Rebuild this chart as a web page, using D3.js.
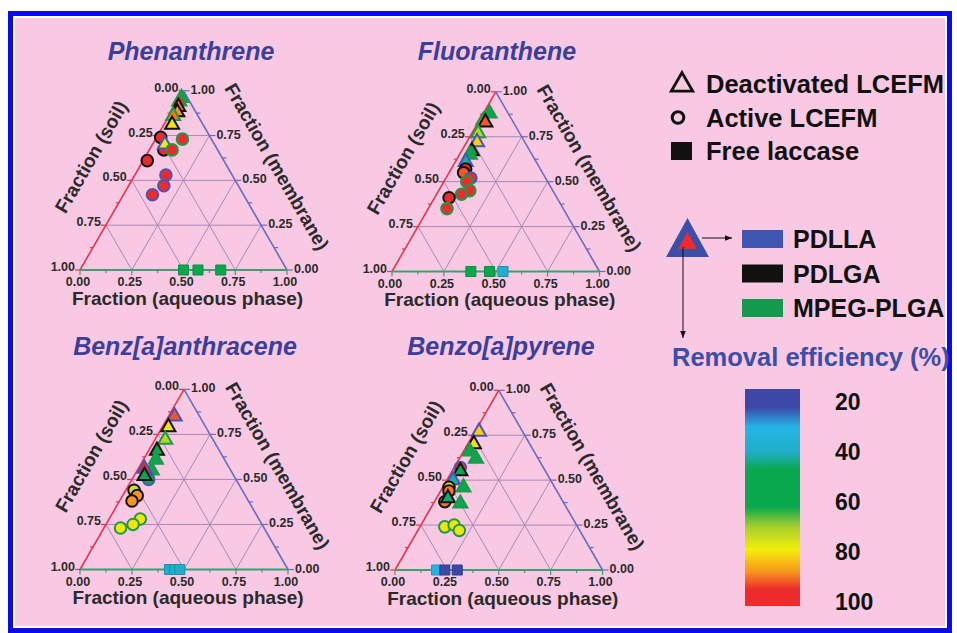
<!DOCTYPE html>
<html>
<head>
<meta charset="utf-8">
<script src="https://cdn.jsdelivr.net/npm/d3@7"></script>
<style>
  body { margin: 0; background: #fff; }
  svg text { font-family: "Liberation Sans", Arial, sans-serif; font-weight: bold; }
</style>
</head>
<body>
<script>
// rows: [marker, polymer, aqueous, soil, membrane, removal efficiency %]
const phenanthrene = [
  ["tri", "MPEG-PLGA", 0.01, 0.03, 0.96, 60],
  ["tri", "MPEG-PLGA", 0.01, 0.05, 0.94, 100],
  ["tri", "PDLGA", 0.02, 0.07, 0.91, 90],
  ["tri", "PDLGA", 0.03, 0.09, 0.88, 88],
  ["tri", "MPEG-PLGA", 0.02, 0.12, 0.86, 90],
  ["tri", "PDLGA", 0.04, 0.15, 0.81, 80],
  ["cir", "PDLGA", 0.02, 0.24, 0.74, 100],
  ["cir", "PDLGA", 0.07, 0.26, 0.67, 98],
  ["tri", "PDLLA", 0.06, 0.24, 0.70, 78],
  ["cir", "MPEG-PLGA", 0.11, 0.22, 0.67, 95],
  ["cir", "MPEG-PLGA", 0.13, 0.14, 0.73, 100],
  ["cir", "PDLGA", 0.02, 0.37, 0.61, 100],
  ["cir", "PDLLA", 0.15, 0.32, 0.53, 100],
  ["cir", "PDLLA", 0.17, 0.36, 0.47, 100],
  ["cir", "PDLLA", 0.14, 0.44, 0.42, 100],
  ["sq", null, 0.50, 0.50, 0, 58],
  ["sq", null, 0.57, 0.43, 0, 58],
  ["sq", null, 0.68, 0.32, 0, 54]
];

const fluoranthene = [
  ["tri", "MPEG-PLGA", 0.03, 0.09, 0.88, 62],
  ["tri", "MPEG-PLGA", 0.02, 0.14, 0.84, 90],
  ["tri", "PDLGA", 0.035, 0.135, 0.83, 92],
  ["tri", "MPEG-PLGA", 0.03, 0.20, 0.77, 72],
  ["tri", "PDLLA", 0.05, 0.23, 0.72, 82],
  ["tri", "PDLGA", 0.05, 0.28, 0.67, 58],
  ["tri", "MPEG-PLGA", 0.05, 0.30, 0.65, 60],
  ["tri", "PDLLA", 0.05, 0.34, 0.61, 42],
  ["cir", "PDLGA", 0.07, 0.36, 0.57, 100],
  ["cir", "PDLGA", 0.07, 0.38, 0.55, 92],
  ["cir", "PDLLA", 0.12, 0.36, 0.52, 100],
  ["cir", "MPEG-PLGA", 0.11, 0.39, 0.50, 100],
  ["cir", "MPEG-PLGA", 0.15, 0.40, 0.45, 100],
  ["cir", "MPEG-PLGA", 0.12, 0.45, 0.43, 100],
  ["cir", "PDLGA", 0.07, 0.52, 0.41, 100],
  ["cir", "MPEG-PLGA", 0.09, 0.56, 0.35, 100],
  ["sq", null, 0.38, 0.62, 0, 58],
  ["sq", null, 0.47, 0.53, 0, 50],
  ["sq", null, 0.535, 0.465, 0, 38]
];

const benzAnthracene = [
  ["tri", "PDLLA", 0.03, 0.12, 0.85, 92],
  ["tri", "PDLGA", 0.03, 0.18, 0.79, 80],
  ["tri", "MPEG-PLGA", 0.05, 0.23, 0.72, 72],
  ["tri", "PDLGA", 0.04, 0.30, 0.66, 58],
  ["tri", "MPEG-PLGA", 0.06, 0.33, 0.61, 56],
  ["tri", "MPEG-PLGA", 0.07, 0.38, 0.55, 58],
  ["tri", "PDLLA", 0.03, 0.41, 0.56, 100],
  ["cir", "PDLLA", 0.08, 0.42, 0.50, 55],
  ["tri", "PDLGA", 0.05, 0.43, 0.52, 58],
  ["cir", "PDLGA", 0.04, 0.52, 0.44, 75],
  ["cir", "PDLGA", 0.07, 0.52, 0.41, 88],
  ["cir", "PDLGA", 0.06, 0.56, 0.38, 88],
  ["cir", "MPEG-PLGA", 0.15, 0.57, 0.28, 80],
  ["cir", "MPEG-PLGA", 0.13, 0.62, 0.25, 80],
  ["cir", "MPEG-PLGA", 0.08, 0.69, 0.23, 78],
  ["sq", null, 0.43, 0.57, 0, 40],
  ["sq", null, 0.455, 0.545, 0, 40],
  ["sq", null, 0.48, 0.52, 0, 40]
];

const benzoPyrene = [
  ["tri", "PDLLA", 0.02, 0.21, 0.77, 82],
  ["tri", "PDLGA", 0.03, 0.27, 0.70, 80],
  ["tri", "MPEG-PLGA", 0.03, 0.31, 0.66, 62],
  ["tri", "MPEG-PLGA", 0.08, 0.30, 0.62, 58],
  ["cir", "PDLLA", 0.03, 0.40, 0.57, 100],
  ["tri", "PDLGA", 0.04, 0.41, 0.55, 60],
  ["tri", "PDLLA", 0.03, 0.47, 0.50, 42],
  ["tri", "MPEG-PLGA", 0.10, 0.44, 0.46, 58],
  ["cir", "PDLGA", 0.03, 0.51, 0.46, 80],
  ["cir", "PDLGA", 0.04, 0.52, 0.44, 90],
  ["cir", "PDLGA", 0.05, 0.57, 0.38, 90],
  ["tri", "PDLGA", 0.055, 0.545, 0.40, 45],
  ["tri", "MPEG-PLGA", 0.13, 0.50, 0.37, 58],
  ["cir", "MPEG-PLGA", 0.12, 0.64, 0.24, 80],
  ["cir", "MPEG-PLGA", 0.16, 0.59, 0.25, 80],
  ["cir", "MPEG-PLGA", 0.20, 0.58, 0.22, 80],
  ["sq", null, 0.20, 0.80, 0, 30],
  ["sq", null, 0.24, 0.76, 0, 22],
  ["sq", null, 0.30, 0.70, 0, 22]
];

const compounds = ["Phenanthrene", "Fluoranthene", "Benz[a]anthracene", "Benzo[a]pyrene"];
const fractionTicks = [0, 0.25, 0.5, 0.75, 1];
const minorTicks = d3.range(0, 1.0001, 0.125);
const markerNames = ["Deactivated LCEFM", "Active LCEFM", "Free laccase"];
const polymerNames = ["PDLLA", "PDLGA", "MPEG-PLGA"];
const effTicks = [20, 40, 60, 80, 100];

const width = 957, height = 633;
const svg = d3.select("body").append("svg")
  .attr("width", width).attr("height", height);

// frame
svg.append("rect").attr("x", 8).attr("y", 11).attr("width", 944).attr("height", 622).attr("fill", "#0b0bea");
svg.append("rect").attr("x", 13).attr("y", 16).attr("width", 934).attr("height", 612).attr("fill", "#fff");
svg.append("rect").attr("x", 15).attr("y", 18).attr("width", 930).attr("height", 608).attr("fill", "#f9c8e3");

const effColor = d3.scaleLinear()
  .domain([15, 22, 30, 40, 47, 62, 70, 79, 88, 95, 101])
  .range(["#3b48a5", "#3b48a5", "#26b4e6", "#1eaec8", "#0aa84e", "#0aa84e",
          "#a7cf2b", "#f4ee0a", "#f7941e", "#ee2a2b", "#ee2a2b"])
  .clamp(true);

const polyColor = d3.scaleOrdinal()
  .domain(polymerNames)
  .range(["#4a55b8", "#111111", "#1c9a4a"]);

const symbols = {
  tri: d3.symbol(d3.symbolTriangle, 85),
  cir: d3.symbol(d3.symbolCircle, 105),
  sq: d3.symbol(d3.symbolSquare, 100)
};

const panels = [
  {data: phenanthrene, x0: 80, yb: 270, w: 207, tx: 191, ty: 60},
  {data: fluoranthene, x0: 392, yb: 271.5, w: 207.5, tx: 497, ty: 60},
  {data: benzAnthracene, x0: 80, yb: 569.5, w: 208, tx: 185, ty: 355},
  {data: benzoPyrene, x0: 395, yb: 570, w: 207.5, tx: 501, ty: 355}
];

panels.forEach((p, i) => {
  const h = p.w * Math.sqrt(3) / 2;
  const xs = d3.scaleLinear().domain([0, 1]).range([p.x0, p.x0 + p.w]);
  const ys = d3.scaleLinear().domain([0, 1]).range([p.yb, p.yb - h]);
  // aqueous a, membrane m -> pixel
  const pos = (a, m) => [xs(a + m / 2), ys(m)];
  const g = svg.append("g");

  g.append("text")
    .attr("x", p.tx).attr("y", p.ty)
    .attr("text-anchor", "middle")
    .attr("font-size", 25).attr("font-style", "italic")
    .attr("fill", "#3a3f99")
    .text(compounds[i]);

  // grid
  const inner = [0.25, 0.5, 0.75];
  const gridLines = [];
  inner.forEach(t => {
    gridLines.push([pos(0, t), pos(1 - t, t)]);
    gridLines.push([pos(t, 0), pos(t, 1 - t)]);
    gridLines.push([pos(1 - t, 0), pos(0, 1 - t)]);
  });
  g.selectAll("line.grid").data(gridLines).join("line")
    .attr("class", "grid")
    .attr("x1", d => d[0][0]).attr("y1", d => d[0][1])
    .attr("x2", d => d[1][0]).attr("y2", d => d[1][1])
    .attr("stroke", "#a58bb6").attr("stroke-width", 1);

  // edges
  const pS = pos(0, 0), pA = pos(1, 0), pM = pos(0, 1);
  g.append("line").attr("x1", pS[0]).attr("y1", pS[1]).attr("x2", pM[0]).attr("y2", pM[1])
    .attr("stroke", "#e8344e").attr("stroke-width", 1.6);
  g.append("line").attr("x1", pM[0]).attr("y1", pM[1]).attr("x2", pA[0]).attr("y2", pA[1])
    .attr("stroke", "#6a6cc0").attr("stroke-width", 1.6);
  g.append("line").attr("x1", pS[0]).attr("y1", pS[1]).attr("x2", pA[0]).attr("y2", pA[1])
    .attr("stroke", "#3a9f72").attr("stroke-width", 2);

  // ticks
  minorTicks.forEach((t, k) => {
    const len = k % 2 === 0 ? 5 : 3;
    let q = pos(t, 0);
    g.append("line").attr("x1", q[0]).attr("y1", q[1]).attr("x2", q[0]).attr("y2", q[1] + len)
      .attr("stroke", "#3a9f72").attr("stroke-width", 1.2);
    q = pos(0, 1 - t);
    g.append("line").attr("x1", q[0]).attr("y1", q[1]).attr("x2", q[0] - len).attr("y2", q[1])
      .attr("stroke", "#e8344e").attr("stroke-width", 1.2);
    q = pos(1 - t, t);
    g.append("line").attr("x1", q[0]).attr("y1", q[1]).attr("x2", q[0] + len + 1).attr("y2", q[1])
      .attr("stroke", "#6a6cc0").attr("stroke-width", 1.2);
  });

  const fmt = d3.format(".2f");
  const tickText = sel => sel.attr("font-size", 12.5).attr("fill", "#2a2a2a");
  // aqueous (bottom)
  g.selectAll("text.ta").data(fractionTicks).join("text").attr("class", "ta")
    .attr("x", d => pos(d, 0)[0] - 2).attr("y", p.yb + 16)
    .attr("text-anchor", "middle").call(tickText).text(fmt);
  // soil (left), 0 at top
  g.selectAll("text.ts").data(fractionTicks).join("text").attr("class", "ts")
    .attr("x", d => pos(0, 1 - d)[0] - 5).attr("y", d => pos(0, 1 - d)[1] + 1)
    .attr("text-anchor", "end").call(tickText).text(fmt);
  // membrane (right), 1 at top
  g.selectAll("text.tm").data(fractionTicks).join("text").attr("class", "tm")
    .attr("x", d => pos(1 - d, d)[0] + 7).attr("y", d => pos(1 - d, d)[1] + 3)
    .attr("text-anchor", "start").call(tickText).text(fmt);

  // axis titles
  const titleText = sel => sel.attr("font-size", 19).attr("fill", "#2a2a2a").attr("text-anchor", "middle");
  g.append("text")
    .attr("x", (pS[0] + pA[0]) / 2 + 4).attr("y", p.yb + 34.5)
    .call(titleText).text("Fraction (aqueous phase)");
  const ml = [(pS[0] + pM[0]) / 2 - 47 * 0.866, (pS[1] + pM[1]) / 2 - 47 * 0.5];
  g.append("text")
    .attr("transform", `translate(${ml}) rotate(-60)`)
    .attr("dy", "0.35em")
    .call(titleText).text("Fraction (soil)");
  const mr = [(pA[0] + pM[0]) / 2 + 43 * 0.866 + 9 * 0.5, (pA[1] + pM[1]) / 2 - 43 * 0.5 + 9 * 0.866];
  g.append("text")
    .attr("transform", `translate(${mr}) rotate(60)`)
    .attr("dy", "0.35em")
    .call(titleText).text("Fraction (membrane)");

  // points
  g.selectAll("path.pt").data(p.data).join("path").attr("class", "pt")
    .attr("transform", d => `translate(${pos(d[2], d[4])})`)
    .attr("d", d => symbols[d[0]]())
    .attr("fill", d => effColor(d[5]))
    .attr("stroke", d => d[1] ? polyColor(d[1]) : d3.color(effColor(d[5])).darker(0.5))
    .attr("stroke-width", d => d[1] ? 2 : 1);
});

// marker legend
const lg = svg.append("g");
const legendY = d3.scalePoint().domain(markerNames).range([84, 151]);
lg.selectAll("text.mk").data(markerNames).join("text").attr("class", "mk")
  .attr("x", 706).attr("y", d => legendY(d) + 9)
  .attr("font-size", 25.5).attr("fill", "#111").text(d => d);
lg.append("path").attr("transform", `translate(682,${legendY(markerNames[0]) + 1})`)
  .attr("d", d3.symbol(d3.symbolTriangle, 200)()).attr("fill", "none")
  .attr("stroke", "#111").attr("stroke-width", 2.8);
lg.append("circle").attr("cx", 678).attr("cy", legendY(markerNames[1]))
  .attr("r", 5.8).attr("fill", "none").attr("stroke", "#111").attr("stroke-width", 3);
lg.append("rect").attr("x", 671).attr("y", legendY(markerNames[2]) - 9)
  .attr("width", 21).attr("height", 18).attr("fill", "#111");

// polymer legend
const defs = svg.append("defs");
defs.append("marker").attr("id", "arrow").attr("viewBox", "0 0 10 10")
  .attr("refX", 10).attr("refY", 5).attr("markerWidth", 7).attr("markerHeight", 7)
  .attr("orient", "auto")
  .append("path").attr("d", "M0,1 L10,5 L0,9 Z").attr("fill", "#111");

lg.append("path").attr("d", "M687.5,218 L709,257 L666,257 Z").attr("fill", "#3b4fa8");
lg.append("path").attr("d", "M687.5,232 L697,249 L678,249 Z").attr("fill", "#ee2a2b");
lg.append("line").attr("x1", 702).attr("y1", 238).attr("x2", 732).attr("y2", 238)
  .attr("stroke", "#111").attr("stroke-width", 1).attr("marker-end", "url(#arrow)");
lg.append("line").attr("x1", 683).attr("y1", 247).attr("x2", 683).attr("y2", 338)
  .attr("stroke", "#111").attr("stroke-width", 1).attr("marker-end", "url(#arrow)");

const polyY = d3.scalePoint().domain(polymerNames).range([239, 308]);
lg.selectAll("rect.pl").data(polymerNames).join("rect").attr("class", "pl")
  .attr("x", 742).attr("y", d => polyY(d) - 9).attr("width", 41).attr("height", 18)
  .attr("fill", d => d === "PDLLA" ? "#3f55b2" : d === "PDLGA" ? "#111" : "#139a4c");
lg.selectAll("text.pl").data(polymerNames).join("text").attr("class", "pl")
  .attr("x", 793).attr("y", d => polyY(d) + 9)
  .attr("font-size", 25).attr("fill", "#111").text(d => d);

// colour bar
lg.append("text").attr("x", 672).attr("y", 366)
  .attr("font-size", 25.5).attr("fill", "#3d4ea5").text("Removal efficiency (%)");

const cy = d3.scaleLinear().domain([20, 100]).range([402, 602]);
const barTop = cy(14.8), barBottom = cy(101.6);
const grad = defs.append("linearGradient").attr("id", "effgrad")
  .attr("x1", 0).attr("y1", 0).attr("x2", 0).attr("y2", 1);
grad.selectAll("stop").data(effColor.domain()).join("stop")
  .attr("offset", d => Math.max(0, Math.min(1, (cy(d) - barTop) / (barBottom - barTop))))
  .attr("stop-color", d => effColor(d));
lg.append("rect").attr("x", 745).attr("y", barTop).attr("width", 55).attr("height", barBottom - barTop)
  .attr("fill", "url(#effgrad)");
lg.selectAll("text.cb").data(effTicks).join("text").attr("class", "cb")
  .attr("x", 835).attr("y", d => cy(d) + 8)
  .attr("font-size", 23).attr("fill", "#111").text(d => d);
</script>
</body>
</html>
